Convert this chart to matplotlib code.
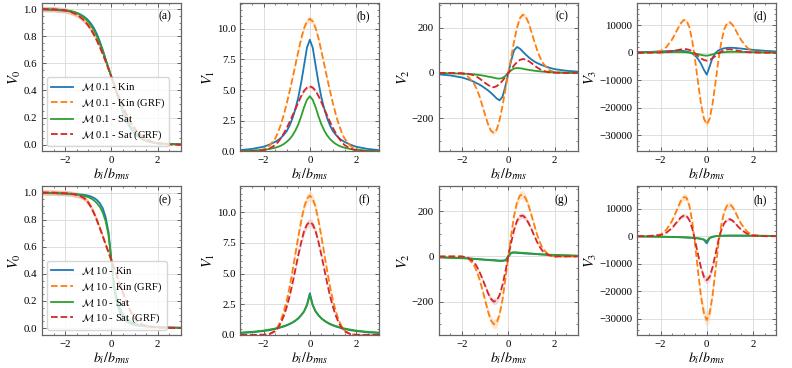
import numpy as np
import matplotlib
matplotlib.use("Agg")
import matplotlib.pyplot as plt
from matplotlib.ticker import AutoMinorLocator, MultipleLocator

plt.rcParams['font.family'] = ['Liberation Serif', 'DejaVu Serif']
plt.rcParams['mathtext.fontset'] = 'stix'
plt.rcParams['axes.unicode_minus'] = True

# threshold b_i / b_rms
b = [-3.0, -2.5, -2.0, -1.75, -1.5, -1.375, -1.25, -1.125, -1.0, -0.875, -0.75, -0.625, -0.5, -0.375, -0.25, -0.125,
     0.0, 0.125, 0.25, 0.375, 0.5, 0.625, 0.75, 0.875, 1.0, 1.125, 1.25, 1.375, 1.5, 1.75, 2.0, 2.5, 3.0]

# ---- M 0.1 ----
v0_m01_kin = [0.997, 0.994, 0.988, 0.982, 0.972, 0.963, 0.952, 0.937, 0.917, 0.891, 0.858, 0.815, 0.762, 0.700, 0.632, 0.565,
              0.5, 0.435, 0.368, 0.300, 0.238, 0.185, 0.142, 0.109, 0.083, 0.063, 0.048, 0.037, 0.028, 0.018, 0.012, 0.006, 0.003]
v0_m01_kgrf = [1.000, 0.998, 0.991, 0.980, 0.961, 0.947, 0.929, 0.907, 0.880, 0.848, 0.811, 0.769, 0.722, 0.670, 0.616, 0.558,
               0.5, 0.442, 0.384, 0.330, 0.278, 0.231, 0.189, 0.152, 0.120, 0.093, 0.071, 0.053, 0.039, 0.020, 0.009, 0.002, 0.000]
v0_m01_sat = [0.999, 0.997, 0.992, 0.985, 0.972, 0.961, 0.947, 0.929, 0.906, 0.877, 0.842, 0.799, 0.748, 0.690, 0.627, 0.563,
              0.5, 0.437, 0.373, 0.310, 0.252, 0.201, 0.158, 0.123, 0.094, 0.071, 0.053, 0.039, 0.028, 0.015, 0.008, 0.003, 0.001]
v0_m01_sgrf = [1.000, 0.998, 0.990, 0.979, 0.959, 0.945, 0.927, 0.905, 0.878, 0.846, 0.809, 0.767, 0.720, 0.669, 0.615, 0.558,
               0.5, 0.442, 0.385, 0.331, 0.280, 0.233, 0.191, 0.154, 0.122, 0.095, 0.073, 0.055, 0.041, 0.021, 0.010, 0.002, 0.000]

v1_m01_kin = [0.1, 0.2, 0.38, 0.55, 0.78, 0.92, 1.1, 1.35, 1.65, 2.1, 2.7, 3.45, 4.4, 5.6, 7.0, 8.45,
              9.1, 8.45, 7.0, 5.6, 4.4, 3.45, 2.7, 2.1, 1.65, 1.35, 1.1, 0.92, 0.78, 0.55, 0.38, 0.2, 0.1]
v1_m01_kgrf = [0.0, 0.02, 0.17, 0.45, 1.05, 1.55, 2.2, 3.0, 3.9, 4.9, 5.95, 7.05, 8.15, 9.2, 10.05, 10.6,
               10.8, 10.6, 10.05, 9.2, 8.15, 7.05, 5.95, 4.9, 3.9, 3.0, 2.2, 1.55, 1.05, 0.45, 0.17, 0.02, 0.0]
v1_m01_sat = [0.03, 0.06, 0.13, 0.2, 0.3, 0.37, 0.47, 0.6, 0.78, 1.0, 1.3, 1.7, 2.2, 2.85, 3.6, 4.2,
              4.5, 4.2, 3.6, 2.85, 2.2, 1.7, 1.3, 1.0, 0.78, 0.6, 0.47, 0.37, 0.3, 0.2, 0.13, 0.06, 0.03]
v1_m01_sgrf = [0.0, 0.01, 0.08, 0.22, 0.52, 0.76, 1.08, 1.47, 1.91, 2.4, 2.92, 3.46, 4.0, 4.51, 4.93, 5.2,
               5.3, 5.2, 4.93, 4.51, 4.0, 3.46, 2.92, 2.4, 1.91, 1.47, 1.08, 0.76, 0.52, 0.22, 0.08, 0.01, 0.0]

v2_m01_kin = [-6, -11, -20, -28, -38, -45, -51, -59, -68, -77, -88, -100, -113, -121, -105, -58,
              0, 55, 100, 115, 108, 95, 82, 70, 60, 51, 44, 38, 33, 24, 17, 10, 6]
v2_m01_kgrf = [0, 0, -3, -15, -44, -69, -102, -143, -186, -227, -256, -265, -250, -207, -145, -72,
               0, 70, 140, 200, 243, 258, 250, 222, 182, 140, 100, 68, 43, 14, 3, 0, 0]
v2_m01_sat = [-1, -1.5, -3, -4, -6, -7.5, -9, -11, -13, -16, -18, -21, -24, -25, -22, -13,
              0, 12, 20, 22, 21, 19, 16, 14, 12, 10, 8.5, 7, 6, 4, 3, 1.5, 1]
v2_m01_sgrf = [0, 0, -1, -3, -10, -16, -24, -34, -44, -53, -60, -63, -58, -48, -34, -17,
               0, 17, 34, 48, 58, 62, 60, 53, 44, 34, 24, 16, 10, 3, 1, 0, 0]

v3_m01_kin = [200, 300, 450, 560, 660, 700, 720, 700, 620, 450, 150, -350, -1100, -2300, -4000, -6200,
              -8000, -5000, -1800, -100, 800, 1300, 1600, 1750, 1800, 1780, 1700, 1600, 1480, 1250, 1030, 700, 450]
v3_m01_kgrf = [0, 100, 600, 2000, 4800, 6800, 8800, 10700, 11900, 11700, 9200, 4200, -3000, -11000, -18600, -24000,
               -26000, -24000, -18600, -11000, -3000, 3800, 8400, 10700, 11100, 10000, 8200, 6200, 4400, 1800, 500, 60, 0]
v3_m01_sat = [50, 80, 130, 170, 210, 230, 240, 230, 200, 130, 20, -130, -320, -540, -780, -1000,
              -1100, -900, -600, -300, -80, 80, 190, 260, 300, 310, 300, 280, 260, 220, 180, 120, 80]
v3_m01_sgrf = [0, 10, 70, 220, 530, 750, 970, 1180, 1300, 1280, 1010, 460, -330, -1210, -2050, -2650,
               -2900, -2650, -2050, -1210, -330, 420, 920, 1180, 1220, 1100, 900, 680, 480, 200, 55, 7, 0]

# ---- M 10 ----
v0_m10_kin = [0.998, 0.996, 0.993, 0.991, 0.988, 0.986, 0.984, 0.981, 0.977, 0.970, 0.960, 0.945, 0.922, 0.885, 0.820, 0.710,
              0.5, 0.290, 0.180, 0.115, 0.078, 0.055, 0.040, 0.030, 0.023, 0.019, 0.016, 0.014, 0.012, 0.009, 0.007, 0.004, 0.002]
v0_m10_kgrf = [1.000, 0.999, 0.996, 0.992, 0.984, 0.977, 0.967, 0.953, 0.928, 0.893, 0.848, 0.797, 0.740, 0.680, 0.620, 0.560,
               0.5, 0.440, 0.380, 0.320, 0.260, 0.203, 0.152, 0.107, 0.072, 0.047, 0.033, 0.023, 0.016, 0.008, 0.004, 0.001, 0.000]
v0_m10_sat = [0.997, 0.995, 0.992, 0.989, 0.985, 0.982, 0.978, 0.973, 0.966, 0.956, 0.942, 0.922, 0.895, 0.855, 0.790, 0.690,
              0.5, 0.310, 0.210, 0.145, 0.105, 0.078, 0.058, 0.044, 0.034, 0.027, 0.022, 0.018, 0.015, 0.011, 0.008, 0.005, 0.003]
v0_m10_sgrf = [1.000, 0.999, 0.995, 0.991, 0.983, 0.976, 0.966, 0.951, 0.926, 0.891, 0.846, 0.795, 0.738, 0.679, 0.619, 0.559,
               0.5, 0.441, 0.381, 0.322, 0.262, 0.205, 0.154, 0.109, 0.074, 0.049, 0.034, 0.024, 0.017, 0.009, 0.004, 0.001, 0.000]

v1_m10_kin = [0.15, 0.21, 0.31, 0.38, 0.48, 0.54, 0.61, 0.68, 0.77, 0.87, 1.0, 1.15, 1.34, 1.6, 1.92, 2.45,
              3.4, 2.45, 1.92, 1.6, 1.34, 1.15, 1.0, 0.87, 0.77, 0.68, 0.61, 0.54, 0.48, 0.38, 0.31, 0.21, 0.15]
v1_m10_kgrf = [0.0, 0.0, 0.01, 0.07, 0.35, 0.7, 1.2, 1.9, 2.8, 3.9, 5.2, 6.6, 8.0, 9.3, 10.4, 11.1,
               11.35, 11.1, 10.4, 9.3, 8.0, 6.6, 5.2, 3.9, 2.8, 1.9, 1.2, 0.7, 0.35, 0.07, 0.01, 0.0, 0.0]
v1_m10_sat = [0.19, 0.25, 0.35, 0.43, 0.52, 0.58, 0.65, 0.72, 0.8, 0.9, 1.02, 1.17, 1.35, 1.6, 1.9, 2.4,
              3.25, 2.4, 1.9, 1.6, 1.35, 1.17, 1.02, 0.9, 0.8, 0.72, 0.65, 0.58, 0.52, 0.43, 0.35, 0.25, 0.19]
v1_m10_sgrf = [0.0, 0.0, 0.01, 0.06, 0.29, 0.57, 0.98, 1.55, 2.27, 3.15, 4.2, 5.35, 6.5, 7.55, 8.45, 9.0,
               9.2, 9.0, 8.45, 7.55, 6.5, 5.35, 4.2, 3.15, 2.27, 1.55, 0.98, 0.57, 0.29, 0.06, 0.01, 0.0, 0.0]

v2_m10_kin = [-3.5, -5.5, -7, -8, -10, -11, -12, -13, -14, -14.5, -15.5, -16, -17, -18, -18, -16,
              0, 15, 17, 16, 15, 14, 13, 12.5, 12, 11, 10, 9, 8.5, 7, 6, 4.5, 3]
v2_m10_kgrf = [0, 0, 0, -8, -35, -63, -100, -145, -195, -245, -283, -300, -293, -255, -190, -100,
               0, 95, 180, 240, 270, 274, 258, 225, 183, 138, 95, 60, 33, 7, 0, 0, 0]
v2_m10_sat = [-4, -6, -8, -9, -11, -12, -13, -14, -15, -16, -17, -18, -19, -20, -20, -18,
              0, 17, 19, 18, 17, 16, 15, 14, 13, 12, 11, 10, 9, 8, 7, 5, 3]
v2_m10_sgrf = [0, 0, 0, -5, -23, -42, -67, -97, -130, -163, -188, -200, -195, -170, -126, -66,
               0, 62, 118, 158, 178, 181, 170, 148, 121, 91, 63, 40, 22, 5, 0, 0, 0]

v3_m10_kin = [-80, -120, -170, -210, -260, -290, -320, -360, -400, -450, -510, -580, -670, -780, -950, -1300,
              -2600, -700, -250, -20, 80, 130, 160, 180, 190, 195, 195, 190, 185, 175, 155, 120, 90]
v3_m10_kgrf = [0, 50, 600, 2300, 5600, 8000, 10500, 12800, 14200, 14000, 11000, 5200, -3500, -13000, -22000, -28000,
               -30500, -28000, -21500, -12500, -3000, 4000, 8800, 11200, 11600, 10500, 8500, 6300, 4300, 1600, 400, 20, 0]
v3_m10_sat = [-100, -150, -200, -250, -300, -330, -360, -400, -440, -490, -550, -620, -700, -800, -950, -1200,
              -1800, -600, -200, 0, 100, 150, 180, 200, 210, 215, 215, 210, 205, 190, 170, 130, 100]
v3_m10_sgrf = [0, 30, 350, 1250, 3000, 4300, 5600, 6800, 7500, 7400, 5800, 2700, -1800, -6800, -11500, -14800,
               -16000, -14800, -11300, -6600, -1700, 2100, 4700, 6000, 6200, 5600, 4500, 3300, 2300, 850, 220, 10, 0]

panel_tags = ['(a)', '(b)', '(c)', '(d)', '(e)', '(f)', '(g)', '(h)']
ylabels = ['$V_0$', '$V_1$', '$V_2$', '$V_3$']
ylims = [(-0.05, 1.045), (0, 12.1), (-347, 310), (-35900, 18100)]
ysteps = [0.2, 2.5, 200, 10000]
band_frac = [0.02, 0.025, 0.04, 0.04, 0.02, 0.035, 0.07, 0.09]

rows = [
    ('0.1', [(v0_m01_kin, v0_m01_kgrf, v0_m01_sat, v0_m01_sgrf),
             (v1_m01_kin, v1_m01_kgrf, v1_m01_sat, v1_m01_sgrf),
             (v2_m01_kin, v2_m01_kgrf, v2_m01_sat, v2_m01_sgrf),
             (v3_m01_kin, v3_m01_kgrf, v3_m01_sat, v3_m01_sgrf)]),
    ('10', [(v0_m10_kin, v0_m10_kgrf, v0_m10_sat, v0_m10_sgrf),
            (v1_m10_kin, v1_m10_kgrf, v1_m10_sat, v1_m10_sgrf),
            (v2_m10_kin, v2_m10_kgrf, v2_m10_sat, v2_m10_sgrf),
            (v3_m10_kin, v3_m10_kgrf, v3_m10_sat, v3_m10_sgrf)]),
]

colors = ['#1f77b4', '#ff7f0e', '#2ca02c', '#d62728']
styles = ['-', '--', '-', '--']
names = ['Kin', 'Kin (GRF)', 'Sat', 'Sat (GRF)']

fig, axes = plt.subplots(2, 4, figsize=(7.92, 3.68), dpi=100)
plt.subplots_adjust(left=0.053, right=0.98, bottom=0.09, top=0.992, wspace=0.43, hspace=0.236)

x = np.array(b)
for r, (mach, cols) in enumerate(rows):
    for c, series in enumerate(cols):
        ax = axes[r, c]
        k = r * 4 + c
        for i, y in enumerate(series):
            y = np.array(y, dtype=float)
            if styles[i] == '--':
                err = band_frac[k] * np.abs(y)
                ax.fill_between(x, y - err, y + err, color=colors[i], alpha=0.2, lw=0)
            ax.plot(x, y, ls=styles[i], color=colors[i], lw=1.3,
                    label=r'$\mathcal{M}$ ' + mach + ' - ' + names[i])
        ax.set_xlim(-3, 3)
        ax.set_ylim(*ylims[c])
        ax.yaxis.set_major_locator(MultipleLocator(ysteps[c]))
        ax.set_xlabel('$b_i/b_{rms}$', fontsize=10, labelpad=1)
        ax.set_ylabel(ylabels[c], fontsize=10.5, labelpad=0)
        ax.grid(True, color='0.85', lw=0.6)
        ax.xaxis.set_minor_locator(AutoMinorLocator())
        ax.yaxis.set_minor_locator(AutoMinorLocator())
        ax.tick_params(which='both', direction='in', top=True, right=True, labelsize=7.8, color='0.3')
        ax.tick_params(which='major', length=3, width=0.6)
        ax.tick_params(which='minor', length=1.5, width=0.5)
        for s in ax.spines.values():
            s.set_color('0.4')
            s.set_linewidth(0.9)
        ax.text(0.93, 0.95, panel_tags[k], transform=ax.transAxes, ha='right', va='top', fontsize=8.5)
        if c == 0:
            ax.legend(loc='lower left', fontsize=7.6, handlelength=2.0, borderpad=0.4, labelspacing=0.3)

plt.savefig('out.png', dpi=100)
